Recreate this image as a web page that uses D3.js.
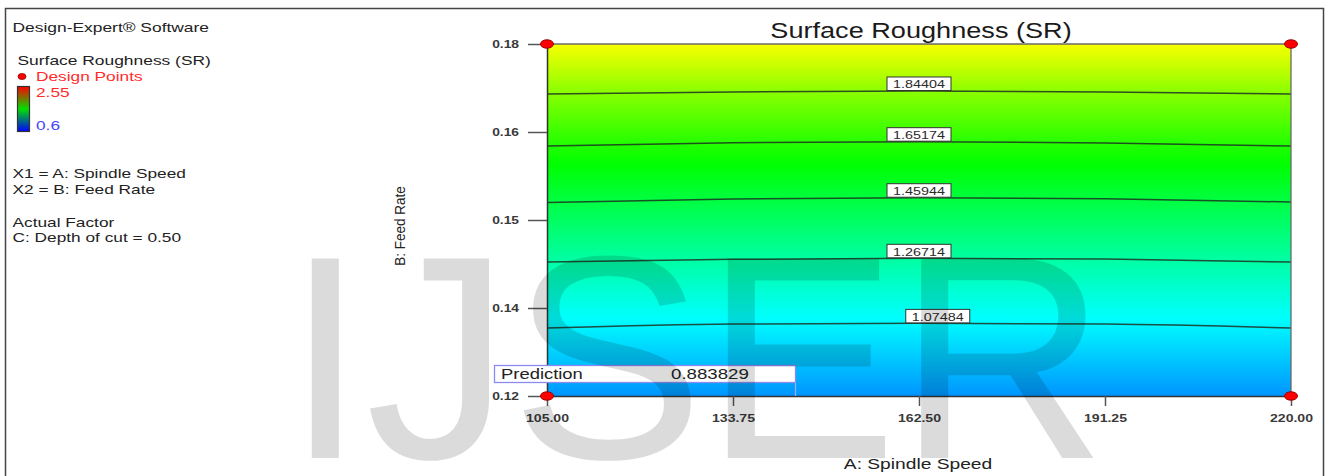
<!DOCTYPE html>
<html>
<head>
<meta charset="utf-8">
<script src="https://cdn.jsdelivr.net/npm/d3@7"></script>
<style>
  html, body { margin: 0; padding: 0; background: #fff; }
  svg { display: block; font-family: "Liberation Sans", Arial, sans-serif; }
</style>
</head>
<body>
<svg id="chart" width="1325" height="476"></svg>
<script>
// ---------------- data ----------------
const speedDomain = [105, 220];
const feedDomain = [0.12, 0.18];
const speedTicks = [105, 133.75, 162.5, 191.25, 220];
const speedTickLabels = ["105.00", "133.75", "162.50", "191.25", "220.00"];
const feedTicks = [0.12, 0.135, 0.15, 0.165, 0.18];
const feedTickLabels = ["0.12", "0.14", "0.15", "0.16", "0.18"];

const contourLevels = [1.07484, 1.26714, 1.45944, 1.65174, 1.84404];
const contourSpeeds = [105, 133.75, 162.5, 191.25, 220];
const contourFeeds = [
  [0.13159, 0.13227, 0.13239, 0.13227, 0.13159],
  [0.14284, 0.14330, 0.14347, 0.14335, 0.14284],
  [0.15298, 0.15358, 0.15380, 0.15363, 0.15307],
  [0.16261, 0.16318, 0.16335, 0.16313, 0.16261],
  [0.17148, 0.17182, 0.17199, 0.17182, 0.17148]
];
const contourLabelSpeeds = [165.4, 162.5, 162.5, 162.5, 162.5];

// response profile along feed rate (mid speed) for the colour fill
const profileFeeds = [0.12, 0.13239, 0.14347, 0.15380, 0.16335, 0.17199, 0.18];
const profileSR = [0.883829, 1.07484, 1.26714, 1.45944, 1.65174, 1.84404, 2.05];

const designPoints = [[105, 0.12], [220, 0.12], [105, 0.18], [220, 0.18]];
const srRange = [0.6, 2.55];
const prediction = { label: "Prediction", value: "0.883829", speed: 105, feed: 0.12 };

// ---------------- setup ----------------
const SX = 1.28; // horizontal stretch of the original picture's text
const FONT = '"Liberation Sans", Arial, sans-serif';
const svg = d3.select("#chart");

const x = d3.scaleLinear().domain(speedDomain).range([547, 1291]);
const y = d3.scaleLinear().domain(feedDomain).range([396, 44]);

const colorMap = d3.scaleLinear()
  .domain(d3.range(5).map(i => srRange[0] + i * (srRange[1] - srRange[0]) / 4))
  .range(["#0000ff", "#00ffff", "#00ff00", "#ffff00", "#ff0000"]);
const profile = d3.scaleLinear().domain(profileFeeds).range(profileSR);

function label(g, px, py, s, o = {}) {
  const t = g.append("g")
    .attr("transform", `translate(${px},${py}) scale(${o.sx || SX},1)`)
    .append("text")
    .attr("x", 0).attr("y", 0)
    .attr("font-family", FONT)
    .attr("font-size", o.size || 13.5)
    .attr("font-weight", o.weight || "normal")
    .attr("fill", o.fill || "#222")
    .attr("text-anchor", o.anchor || "start")
    .text(s);
  return t;
}

const defs = svg.append("defs");

// outer frame
svg.append("rect").attr("x", 5.5).attr("y", 8.5).attr("width", 1318).attr("height", 480)
  .attr("fill", "#fff").attr("stroke", "#444").attr("stroke-width", 1.5);

// ---------------- plot fill ----------------
const grad = defs.append("linearGradient").attr("id", "fieldGrad")
  .attr("gradientUnits", "userSpaceOnUse")
  .attr("x1", 0).attr("x2", 0).attr("y1", y(feedDomain[0])).attr("y2", y(feedDomain[1]));
d3.range(0, 61).forEach(i => {
  const f = feedDomain[0] + i / 60 * (feedDomain[1] - feedDomain[0]);
  grad.append("stop").attr("offset", (i / 60 * 100) + "%").attr("stop-color", colorMap(profile(f)));
});
svg.append("rect")
  .attr("x", x(speedDomain[0])).attr("y", y(feedDomain[1]))
  .attr("width", x(speedDomain[1]) - x(speedDomain[0]))
  .attr("height", y(feedDomain[0]) - y(feedDomain[1]))
  .attr("fill", "url(#fieldGrad)");

// contour lines
const line = d3.line().x(d => x(d[0])).y(d => y(d[1])).curve(d3.curveMonotoneX);
contourLevels.forEach((lv, i) => {
  const pts = contourSpeeds.map((s, j) => [s, contourFeeds[i][j]]);
  svg.append("path").attr("d", line(pts)).attr("fill", "none")
    .attr("stroke", "#1c3322").attr("stroke-opacity", 0.85).attr("stroke-width", 1.5);
});

// top/right frame of plot
svg.append("path")
  .attr("d", `M${x(speedDomain[0])},${y(feedDomain[1])}H${x(speedDomain[1])}V${y(feedDomain[0])}`)
  .attr("fill", "none").attr("stroke", "#6a6a6a").attr("stroke-width", 1.3);

// contour labels
contourLevels.forEach((lv, i) => {
  const sp = contourLabelSpeeds[i];
  const fy = d3.scaleLinear().domain(contourSpeeds).range(contourFeeds[i])(sp);
  const cx = x(sp), cy = y(fy);
  svg.append("rect").attr("x", cx - 32).attr("y", cy - 14).attr("width", 64).attr("height", 13.5)
    .attr("fill", "#fff").attr("stroke", "#333").attr("stroke-width", 1);
  label(svg, cx, cy - 2.6, d3.format(".5f")(lv), { size: 11.2, anchor: "middle", fill: "#2a2a2a" });
});

// ---------------- axes ----------------
const yAxis = d3.axisLeft(y).tickValues(feedTicks).tickFormat((d, i) => feedTickLabels[i])
  .tickSize(19).tickSizeOuter(0).tickPadding(9);
const gy = svg.append("g").attr("transform", `translate(${x(speedDomain[0])},0)`).call(yAxis);
gy.select(".domain").attr("stroke", "#333").attr("stroke-width", 1.5);
gy.selectAll(".tick line").attr("stroke", "#555").attr("stroke-width", 1.5);
gy.selectAll(".tick text")
  .attr("x", -28 / SX).attr("dy", "0.36em")
  .attr("transform", `scale(${SX},1)`)
  .attr("font-family", FONT).attr("font-size", 10.8).attr("font-weight", "bold").attr("fill", "#3a3a3a");

const xAxis = d3.axisBottom(x).tickValues(speedTicks).tickFormat((d, i) => speedTickLabels[i])
  .tickSize(10).tickSizeOuter(0);
const gx = svg.append("g").attr("transform", `translate(0,${y(feedDomain[0])})`).call(xAxis);
gx.select(".domain").attr("stroke", "#333").attr("stroke-width", 1.5);
gx.selectAll(".tick line").attr("stroke", "#555").attr("stroke-width", 1.5);
gx.selectAll(".tick text")
  .attr("y", 26).attr("dy", 0)
  .attr("transform", `scale(${SX},1)`)
  .attr("font-family", FONT).attr("font-size", 11).attr("font-weight", "bold").attr("fill", "#3a3a3a");

// axis titles
label(svg, 918, 469, "A: Spindle Speed", { size: 15, anchor: "middle", fill: "#222" });
svg.append("text")
  .attr("transform", "translate(405,226) rotate(-90) scale(1,1.15)")
  .attr("text-anchor", "middle").attr("font-family", FONT).attr("font-size", 13.5)
  .attr("fill", "#222").text("B: Feed Rate");

// chart title
label(svg, 921, 38, "Surface Roughness (SR)", { size: 21.2, anchor: "middle", fill: "#1a1a1a" });

// design points
svg.selectAll(".dp").data(designPoints).join("ellipse")
  .attr("cx", d => x(d[0])).attr("cy", d => y(d[1]))
  .attr("rx", 6.5).attr("ry", 4.2)
  .attr("fill", "#ff0000").attr("stroke", "#9a0000").attr("stroke-width", 1);

// prediction box
const px0 = 494, py0 = 365;
svg.append("rect").attr("x", px0 + 0.5).attr("y", py0 + 0.5).attr("width", 301).attr("height", 17)
  .attr("fill", "#fff").attr("stroke", "#8a8af0").attr("stroke-width", 1.3);
svg.append("line").attr("x1", 795.5).attr("x2", 795.5).attr("y1", py0 + 17.5).attr("y2", y(prediction.feed))
  .attr("stroke", "#a8a8f0").attr("stroke-width", 1.2);
label(svg, 501, 379, prediction.label, { size: 14.4, fill: "#222" });
label(svg, 671, 379, prediction.value, { size: 14.6, fill: "#222" });

// ---------------- left legend ----------------
label(svg, 12.5, 32, "Design-Expert® Software", { size: 13.6 });
label(svg, 17.5, 65, "Surface Roughness (SR)", { size: 13.6 });
svg.append("ellipse").attr("cx", 22).attr("cy", 76.5).attr("rx", 4).attr("ry", 3)
  .attr("fill", "#ff0000").attr("stroke", "#8a0000").attr("stroke-width", 0.8);
label(svg, 36, 81, "Design Points", { size: 13.5, fill: "#ff2b2b" });
const cb = defs.append("linearGradient").attr("id", "cbGrad").attr("x1", 0).attr("x2", 0).attr("y1", 0).attr("y2", 1);
cb.append("stop").attr("offset", "0%").attr("stop-color", colorMap(srRange[1]));
cb.append("stop").attr("offset", "50%").attr("stop-color", "#00e000");
cb.append("stop").attr("offset", "100%").attr("stop-color", colorMap(srRange[0]));
svg.append("rect").attr("x", 17.5).attr("y", 86.5).attr("width", 12).attr("height", 45)
  .attr("fill", "url(#cbGrad)").attr("stroke", "#333").attr("stroke-width", 1.2);
label(svg, 36, 97, String(srRange[1]), { size: 13.5, fill: "#ff2b2b" });
label(svg, 36, 129.5, String(srRange[0]), { size: 13.5, fill: "#4646ff" });
label(svg, 12.5, 178, "X1 = A: Spindle Speed", { size: 13.5 });
label(svg, 12.5, 194, "X2 = B: Feed Rate", { size: 13.5 });
label(svg, 12.5, 227, "Actual Factor", { size: 13.5 });
label(svg, 12.5, 242, "C: Depth of cut = 0.50", { size: 13.5 });

// ---------------- watermark ----------------
svg.append("text")
  .attr("x", 285).attr("y", 458)
  .attr("font-family", FONT).attr("font-size", 290)
  .attr("fill", "#000").attr("fill-opacity", 0.14)
  .text("IJSER");
</script>
</body>
</html>
